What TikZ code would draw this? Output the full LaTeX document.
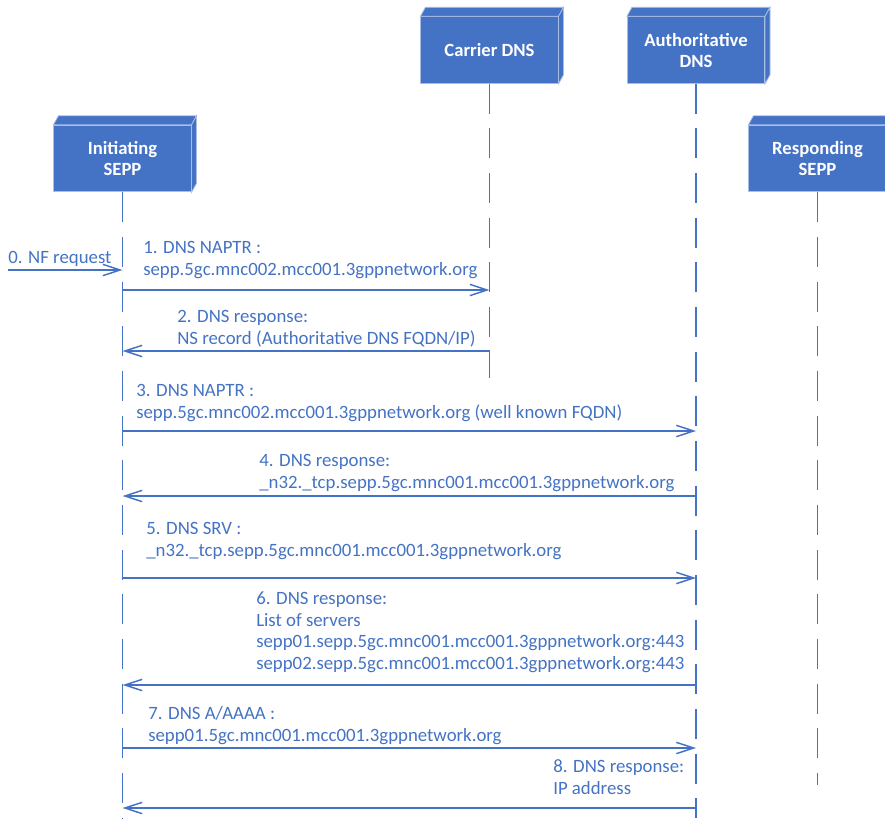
\documentclass[tikz,border=0pt]{standalone}
\usepackage{fontspec}
\setmainfont{Carlito}
\usetikzlibrary{arrows.meta,positioning,calc}
\definecolor{msblue}{HTML}{4472C4}
\definecolor{edgeblue}{HTML}{A9BEE4}

\begin{document}
\begin{tikzpicture}[x=0.75pt,y=-0.75pt,
  entity/.style={fill=msblue, draw=edgeblue, line width=0.6pt, minimum width=103pt, minimum height=50pt,
    align=center, text=white, font=\fontsize{14}{15.75}\selectfont\bfseries},
  face/.style={fill=msblue, draw=edgeblue, line width=0.6pt},
  life/.style={msblue, line width=1.2pt, dash pattern=on 22.5pt off 11pt},
  msg/.style={msblue, line width=1.1pt, -{Straight Barb[length=13pt,width=8.5pt]}},
  lbl/.style={msblue, anchor=base west, align=left, inner sep=0pt, font=\fontsize{14.1}{16.1}\selectfont}]

  \useasboundingbox (0,0) rectangle (885,818);

  \node[entity] (init) at (122.5,158.5) {Initiating\\SEPP};
  \node[entity] (carr) at (489.5,50) {Carrier DNS};
  \node[entity] (auth) at (696,50) {Authoritative\\DNS};
  \node[entity] (resp) at (817.5,158.5) {Responding\\SEPP};

  \foreach \n in {init,carr,auth,resp}{
    \draw[face] (\n.north west) -- ++(5,-9) -- ($(\n.north east)+(5,-9)$) -- (\n.north east) -- cycle;
    \draw[face] (\n.north east) -- ++(5,-9) -- ($(\n.south east)+(5,-9)$) -- (\n.south east) -- cycle;
  }

  \coordinate (bot) at (0,818);
  \coordinate (carrend) at (0,378);
  \coordinate (respend) at (0,785);
  \draw[life] (init.south) -- (init |- bot);
  \draw[life] (carr.south) -- (carr |- carrend);
  \draw[life] (auth.south) -- (auth |- bot);
  \draw[life] (resp.south) -- (resp |- respend);

  \coordinate (nf) at (8,270);
  \coordinate (m0) at (0,270);
  \coordinate (m1) at (0,290);
  \coordinate (m2) at (0,351);
  \coordinate (m3) at (0,431);
  \coordinate (m4) at (0,496);
  \coordinate (m5) at (0,578);
  \coordinate (m6) at (0,685);
  \coordinate (m7) at (0,748);
  \coordinate (m8) at (0,808);

  \draw[msg] (nf) -- (init |- m0);
  \draw[msg] (init |- m1) -- (carr |- m1);
  \draw[msg] (carr |- m2) -- (init |- m2);
  \draw[msg] (init |- m3) -- (auth |- m3);
  \draw[msg] (auth |- m4) -- (init |- m4);
  \draw[msg] (init |- m5) -- (auth |- m5);
  \draw[msg] (auth |- m6) -- (init |- m6);
  \draw[msg] (init |- m7) -- (auth |- m7);
  \draw[msg] (auth |- m8) -- (init |- m8);

  \node[lbl] (l0) at (8,263) {0. NF request};
  \node[lbl] (l1) at (143,275) {1. DNS NAPTR :\\sepp.5gc.mnc002.mcc001.3gppnetwork.org};
  \node[lbl] (l2) at (177,344) {2. DNS response:\\NS record (Authoritative DNS FQDN/IP)};
  \node[lbl] (l3) at (136,418) {3. DNS NAPTR :\\sepp.5gc.mnc002.mcc001.3gppnetwork.org (well known FQDN)};
  \node[lbl] (l4) at (259,488) {4. DNS response:\\\_n32.\_tcp.sepp.5gc.mnc001.mcc001.3gppnetwork.org};
  \node[lbl] (l5) at (146,556) {5. DNS SRV :\\\_n32.\_tcp.sepp.5gc.mnc001.mcc001.3gppnetwork.org};
  \node[lbl] (l6) at (256,669) {6. DNS response:\\List of servers\\sepp01.sepp.5gc.mnc001.mcc001.3gppnetwork.org:443\\sepp02.sepp.5gc.mnc001.mcc001.3gppnetwork.org:443};
  \node[lbl] (l7) at (148,741) {7. DNS A/AAAA :\\sepp01.5gc.mnc001.mcc001.3gppnetwork.org};
  \node[lbl] (l8) at (553,794) {8. DNS response:\\IP address};
\end{tikzpicture}
\end{document}
